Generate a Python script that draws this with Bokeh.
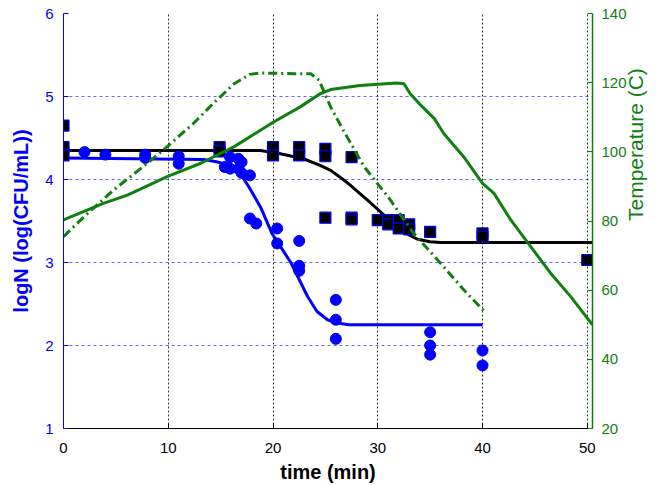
import math
from bokeh.plotting import figure
from bokeh.models import Range1d, LinearAxis, FixedTicker, Title
from bokeh.embed import file_html
from bokeh.resources import INLINE

# ---- data ----
circ_t = [0, 2.0, 4.0, 7.8, 7.8, 11.0, 11.0, 15.4, 15.9, 15.9, 16.7, 16.7, 17.0, 17.0,
          17.8, 17.8, 18.4, 20.4, 20.4, 22.5, 22.5, 22.5, 26.0, 26.0, 26.0,
          35.0, 35.0, 35.0, 40.0, 40.0]
circ_logN = [4.37, 4.33, 4.30, 4.30, 4.26, 4.28, 4.19, 4.15, 4.27, 4.13, 4.25, 4.13, 4.21, 4.08,
             4.05, 3.53, 3.47, 3.41, 3.23, 3.26, 2.96, 2.90, 2.55, 2.31, 2.08,
             2.16, 2.00, 1.89, 1.94, 1.76]

sq_t = [0, 0, 0, 14.9, 14.9, 20, 20, 22.5, 22.5, 25, 25, 25, 27.5, 27.5, 27.5,
        30, 31, 31, 32, 32, 33, 33, 35, 40, 40, 50]
sq_logN = [4.65, 4.39, 4.29, 4.39, 4.34, 4.39, 4.29, 4.39, 4.29, 4.37, 4.28, 3.54, 4.27, 3.54, 3.52,
           3.51, 3.51, 3.46, 3.51, 3.41, 3.46, 3.40, 3.37, 3.35, 3.31, 3.03]

blue_fit_t = [0, 13.4, 14.7, 15.9, 16.9, 17.8, 18.8, 19.9, 21.7, 23.3, 24.2, 25.2, 26.2, 27.2, 40.0]
blue_fit_logN = [4.26, 4.24, 4.21, 4.17, 4.07, 3.89, 3.67, 3.35, 3.00, 2.59, 2.41, 2.31, 2.27, 2.25, 2.25]

black_fit_t = [0, 18.8, 20.7, 22.9, 24.5, 25.5, 26.7, 27.4, 28.3, 29.3, 30.6, 31.8, 33.0, 33.8, 35.0, 36.0, 50.5]
black_fit_logN = [4.35, 4.35, 4.31, 4.25, 4.17, 4.11, 4.00, 3.93, 3.83, 3.72, 3.57, 3.43, 3.33, 3.28, 3.25, 3.24, 3.24]

temp1_t = [0, 3.8, 6.1, 9.9, 13.1, 16.3, 20.1, 22.6, 24.5, 25.5, 28.3, 31.8, 32.5, 33.1, 34.1,
           35.4, 36.3, 38.2, 40.0, 41.1, 42.7, 44.6, 46.5, 48.4, 50.5]
temp1_T = [80.3, 85.1, 87.5, 92.8, 96.7, 101.5, 108.7, 113.0, 116.8, 118.0, 119.2, 119.9, 119.7, 116.8, 113.5,
           109.6, 105.3, 98.6, 90.9, 88.0, 80.3, 72.6, 64.9, 58.2, 50.0]

temp2_t = [0, 2.3, 4.8, 8.0, 9.9, 12.4, 14.3, 16.3, 17.8, 18.8, 22.0, 23.6, 24.4, 25.5, 26.7,
           28.7, 31.2, 33.4, 35.7, 38.2, 40.3]
temp2_T = [75.5, 82.2, 89.0, 96.7, 101.5, 108.2, 114.0, 119.7, 122.4, 122.8, 122.6, 122.6, 120.7, 113.0, 106.3,
           95.7, 86.1, 76.5, 68.8, 60.1, 53.5]

x_ticks = [0, 10, 20, 30, 40, 50]
left_ticks = [1, 2, 3, 4, 5, 6]
right_ticks = [20, 40, 60, 80, 100, 120, 140]

BLUE = "#0000ff"
GREEN = "#0f800f"
FONT = "Liberation Sans"

p = figure(width=662, height=485, x_range=Range1d(0, 50.5), y_range=Range1d(1, 6),
           output_backend="svg", toolbar_location=None,
           min_border_left=63, min_border_right=70, min_border_top=13, min_border_bottom=56)
p.outline_line_color = None
p.background_fill_color = "white"
p.border_fill_color = "white"
p.extra_y_ranges = {"temp": Range1d(20, 140)}

# grids
p.xgrid.ticker = FixedTicker(ticks=[10, 20, 30, 40, 50])
p.xgrid.grid_line_color = "#000000"
p.xgrid.grid_line_alpha = 0.8
p.xgrid.grid_line_dash = "2 2"
p.xgrid.grid_line_width = 1
p.ygrid.ticker = FixedTicker(ticks=[2, 3, 4, 5, 6])
p.ygrid.grid_line_color = BLUE
p.ygrid.grid_line_alpha = 0.6
p.ygrid.grid_line_dash = "3 3"
p.ygrid.grid_line_width = 1

# x axis
xa = p.xaxis[0]
xa.ticker = FixedTicker(ticks=x_ticks)
xa.axis_label = "time (min)"
xa.axis_label_text_font = FONT
xa.axis_label_text_font_style = "bold"
xa.axis_label_text_font_size = "20px"
xa.axis_label_text_color = "black"
xa.axis_label_standoff = 5
xa.major_label_text_font = FONT
xa.major_label_text_font_size = "15px"
xa.major_label_text_color = "black"
xa.major_label_standoff = 14
xa.major_tick_in = 5
xa.major_tick_out = 0
xa.minor_tick_in = 0
xa.minor_tick_out = 0
xa.axis_line_color = "black"
xa.major_tick_line_color = "black"

# left axis
ya = p.yaxis[0]
ya.ticker = FixedTicker(ticks=left_ticks)
ya.axis_label = "logN (log(CFU/mL))"
ya.axis_label_text_font = FONT
ya.axis_label_text_font_style = "bold"
ya.axis_label_text_font_size = "20px"
ya.axis_label_text_color = BLUE
ya.axis_label_standoff = 10
ya.major_label_text_font = FONT
ya.major_label_text_font_size = "15px"
ya.major_label_text_color = BLUE
ya.major_label_standoff = 10
ya.major_tick_in = 5
ya.major_tick_out = 0
ya.minor_tick_in = 0
ya.minor_tick_out = 0
ya.axis_line_color = BLUE
ya.major_tick_line_color = BLUE

# right axis
ra = LinearAxis(y_range_name="temp", ticker=FixedTicker(ticks=right_ticks))
ra.major_label_text_font = FONT
ra.major_label_text_font_size = "15px"
ra.major_label_text_color = GREEN
ra.major_label_standoff = 9
ra.major_tick_in = 5
ra.major_tick_out = 0
ra.minor_tick_in = 0
ra.minor_tick_out = 0
ra.axis_line_color = GREEN
ra.major_tick_line_color = GREEN
ra.axis_line_width = 1.5
if "axis_label_orientation" in ra.properties():
    ra.axis_label = "Temperature (C)"
    ra.axis_label_text_font = FONT
    ra.axis_label_text_font_style = "normal"
    ra.axis_label_text_font_size = "21px"
    ra.axis_label_text_color = GREEN
    ra.axis_label_standoff = 6
    ra.axis_label_orientation = math.pi / 2
    p.add_layout(ra, "right")
else:
    p.add_layout(ra, "right")
    p.add_layout(Title(text="Temperature (C)", text_font=FONT, text_font_size="21px",
                       text_font_style="normal", text_color=GREEN, align="center"), "right")

# model lines
p.line(black_fit_t, black_fit_logN, line_color="black", line_width=3)
p.line(blue_fit_t, blue_fit_logN, line_color=BLUE, line_width=3)

# data
p.scatter(circ_t, circ_logN, marker="circle", size=11, fill_color=BLUE, line_color=BLUE)
p.scatter(sq_t, sq_logN, marker="square", size=11, fill_color="black", line_color=BLUE, line_width=1.2)

# temperature
p.line(temp1_t, temp1_T, y_range_name="temp", line_color=GREEN, line_width=3)
p.line(temp2_t, temp2_T, y_range_name="temp", line_color=GREEN, line_width=3, line_dash="9 4 2 4")

open("out.html", "w").write(file_html(p, INLINE))
